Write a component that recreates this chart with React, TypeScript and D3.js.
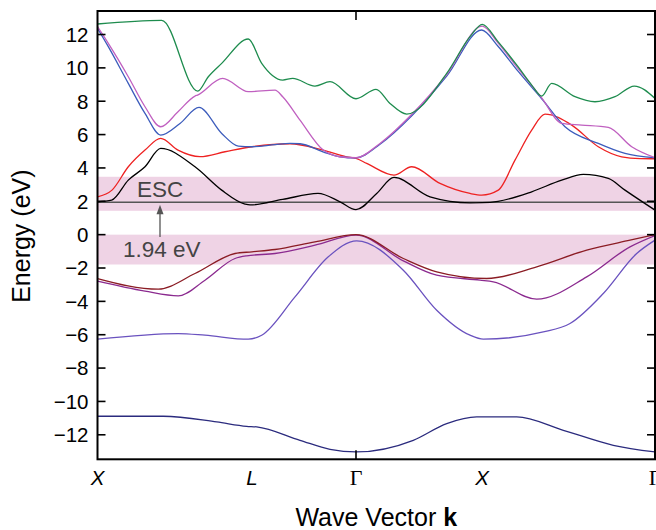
import React from "react";
import * as d3 from "d3";

// k positions of high-symmetry points (path length units)
const symPoints = [
  { k: 0, label: "X", italic: true },
  { k: 1.545, label: "L", italic: true },
  { k: 2.585, label: "Γ", italic: false },
  { k: 3.845, label: "X", italic: true },
  { k: 5.575, label: "Γ", italic: false },
];
const yTicks = [-12, -10, -8, -6, -4, -2, 0, 2, 4, 6, 8, 10, 12];

type P = [number, number];

const band0: P[] = [
  [0, -10.89], [0.658, -10.89], [1.192, -11.23], [1.492, -11.49], [1.592, -11.53],
  [2.025, -12.33], [2.325, -12.87], [2.585, -13.03], [3.158, -12.33], [3.492, -11.33],
  [3.792, -10.93], [4.192, -10.93], [4.658, -11.73], [5.158, -12.63], [5.575, -13.03],
];
const band1: P[] = [
  [0, -6.27], [0.808, -5.93], [1.075, -6.03], [1.508, -6.27], [1.642, -6.03],
  [1.975, -3.73], [2.308, -1.33], [2.592, -0.37], [3.058, -2.13], [3.392, -4.53],
  [3.725, -6.03], [3.858, -6.27], [4.458, -5.83], [4.725, -5.33], [5.058, -3.53],
  [5.392, -1.13], [5.575, -0.33],
];
const band2: P[] = [
  [0, -2.79], [0.475, -3.39], [0.808, -3.67], [1.075, -2.73], [1.375, -1.43],
  [1.492, -1.27], [1.775, -1.13], [2.175, -0.63], [2.585, -0.03], [3.058, -1.57],
  [3.392, -2.43], [3.825, -2.73], [3.958, -2.83], [4.392, -3.87], [4.892, -2.53],
  [5.325, -0.73], [5.575, -0.05],
];
const band3: P[] = [
  [0, -2.63], [0.608, -3.27], [0.975, -2.33], [1.375, -1.13], [1.545, -1.03],
  [1.775, -0.89], [2.175, -0.43], [2.585, 0], [3.058, -1.43], [3.392, -2.23],
  [3.892, -2.63], [4.392, -1.93], [4.892, -0.93], [5.325, -0.33], [5.575, 0],
];
const band4: P[] = [
  [0, 1.97], [0.142, 2.07], [0.308, 3.27], [0.475, 4.07], [0.632, 5.17],
  [0.975, 4.07], [1.242, 2.67], [1.475, 1.83], [1.525, 1.78], [1.852, 2.11],
  [2.205, 2.47], [2.425, 1.97], [2.585, 1.5], [2.792, 2.47], [2.965, 3.43],
  [3.325, 2.27], [3.725, 1.91], [3.845, 1.92], [4.005, 2.0], [4.342, 2.57],
  [4.642, 3.27], [4.858, 3.61], [5.108, 3.37], [5.275, 2.67], [5.575, 1.47],
];
const band5: P[] = [
  [0, 2.27], [0.145, 2.67], [0.308, 4.07], [0.475, 5.07], [0.632, 5.77],
  [0.805, 5.07], [1.025, 4.68], [1.275, 4.97], [1.545, 5.27], [1.925, 5.45],
  [2.255, 5.07], [2.49, 4.67], [2.585, 4.57], [2.692, 4.27], [2.965, 3.57],
  [3.142, 4.07], [3.425, 3.07], [3.725, 2.47], [3.842, 2.37], [4.008, 2.67],
  [4.175, 4.47], [4.342, 6.27], [4.475, 7.23], [4.742, 6.57], [5.008, 5.27],
  [5.242, 4.67], [5.425, 4.56], [5.575, 4.55],
];
const band6: P[] = [
  [0, 12.37], [0.108, 11.27], [0.308, 9.07], [0.475, 7.27], [0.632, 5.97],
  [0.825, 6.67], [1.015, 7.63], [1.242, 6.07], [1.408, 5.31], [1.545, 5.27],
  [1.775, 5.4], [1.925, 5.47], [2.025, 5.45], [2.255, 4.97], [2.425, 4.67],
  [2.585, 4.6], [2.825, 5.42], [3.155, 7.2], [3.492, 9.5], [3.842, 12.27],
  [4.005, 11.3], [4.205, 9.8], [4.442, 8.15], [4.675, 6.47], [5.008, 5.47],
  [5.275, 4.87], [5.575, 4.61],
];
const band7: P[] = [
  [0, 12.47], [0.108, 11.47], [0.308, 9.47], [0.475, 7.67], [0.632, 6.47],
  [0.805, 7.37], [0.975, 8.31], [1.0, 8.37], [1.252, 9.37], [1.508, 8.57],
  [1.775, 8.67], [1.852, 8.27], [2.025, 6.87], [2.258, 5.07], [2.425, 4.67],
  [2.585, 4.61], [2.825, 5.47], [3.155, 7.29], [3.492, 9.6], [3.848, 12.5],
  [4.005, 11.5], [4.205, 9.97], [4.442, 8.2], [4.642, 6.67], [4.842, 6.57],
  [5.108, 6.43], [5.342, 5.27], [5.575, 4.61],
];
const band8: P[] = [
  [0, 12.63], [0.642, 12.85], [1.002, 8.61], [1.108, 9.47], [1.242, 10.27],
  [1.508, 11.73], [1.642, 10.27], [1.852, 9.27], [1.952, 9.37], [2.175, 8.91],
  [2.325, 9.17], [2.585, 8.15], [2.785, 8.71], [2.925, 7.87], [3.092, 7.23],
  [3.492, 9.67], [3.725, 11.87], [3.848, 12.61], [4.005, 11.57], [4.205, 10.07],
  [4.342, 8.97], [4.442, 8.31], [4.542, 9.07], [4.775, 8.27], [4.975, 7.97],
  [5.175, 8.27], [5.368, 8.91], [5.575, 8.17],
];

const bands = [band0, band1, band2, band3, band4, band5, band6, band7, band8];
const bandColors = [
  "#2b2b7e", "#6a52bf", "#8b2a8f", "#8b1c24", "#000000",
  "#ee2222", "#3c5cbc", "#c060c0", "#1e8c4e",
];

const shadeBands: [number, number][] = [[1.43, 3.47], [-1.79, 0]];
const escEnergy = 1.94;

export default function App() {
  const W = 656, H = 530;
  const left = 97.5, right = 655, top = 11, bottom = 459.3;
  const x = d3.scaleLinear().domain([0, 5.575]).range([left, right]);
  const y = d3.scaleLinear().domain([-13.47, 13.41]).range([bottom, top]);
  const line = d3.line<P>().x(d => x(d[0])).y(d => y(d[1])).curve(d3.curveMonotoneX);
  const font = "'Liberation Sans', Arial, Helvetica, sans-serif";
  const gammaK = symPoints[2].k;
  const arrowX = 160;

  return (
    <svg width={W} height={H} style={{ position: "absolute", left: 0, top: 0, background: "#fff" }}>
      <defs>
        <clipPath id="plotclip">
          <rect x={left} y={top} width={right - left} height={bottom - top} />
        </clipPath>
      </defs>
      <g clipPath="url(#plotclip)">
        {shadeBands.map((b, i) => (
          <rect key={i} x={left} width={right - left} y={y(b[1])} height={y(b[0]) - y(b[1])} fill="#efd3e5" />
        ))}
        <line x1={left} x2={right} y1={y(escEnergy)} y2={y(escEnergy)} stroke="#555" strokeWidth={1.6} />
        {bands.map((b, i) => (
          <path key={i} d={line(b) || ""} fill="none" stroke={bandColors[i]} strokeWidth={1.3} />
        ))}
      </g>
      {/* annotation */}
      <text x={137} y={197.3} fontFamily={font} fontSize={22.5} fill="#444">ESC</text>
      <line x1={arrowX} x2={arrowX} y1={237} y2={y(escEnergy) + 10} stroke="#555" strokeWidth={1.3} />
      <path d={`M${arrowX},${y(escEnergy) + 2.5} L${arrowX - 3.5},${y(escEnergy) + 12} L${arrowX + 3.5},${y(escEnergy) + 12} Z`} fill="#555" />
      <text x={123} y={257.3} fontFamily={font} fontSize={22.5} fill="#444">1.94 eV</text>

      {/* frame */}
      <rect x={left} y={top} width={right - left} height={bottom - top} fill="none" stroke="#000" strokeWidth={2} />
      {yTicks.map(t => (
        <g key={t}>
          <line x1={left} x2={left + 8} y1={y(t)} y2={y(t)} stroke="#000" strokeWidth={1.6} />
          <line x1={right - 8} x2={right} y1={y(t)} y2={y(t)} stroke="#000" strokeWidth={1.6} />
          <text x={left - 9} y={y(t)} dy="0.36em" textAnchor="end" fontFamily={font} fontSize={20.5} fill="#000">
            {t < 0 ? `\u2212${Math.abs(t)}` : `${t}`}
          </text>
        </g>
      ))}
      <line x1={x(gammaK)} x2={x(gammaK)} y1={top} y2={top + 9} stroke="#000" strokeWidth={1.6} />
      <line x1={x(gammaK)} x2={x(gammaK)} y1={bottom} y2={bottom - 9} stroke="#000" strokeWidth={1.6} />
      {symPoints.map((s, i) => (
        <text key={i} x={x(s.k)} y={485} textAnchor="middle"
          fontFamily={s.italic ? font : "'Liberation Serif', 'DejaVu Serif', serif"}
          fontStyle={s.italic ? "italic" : "normal"} fontSize={s.italic ? 20.5 : 22} fill="#000">
          {s.label}
        </text>
      ))}
      <text x={(left + right) / 2} y={526} textAnchor="middle" fontFamily={font} fontSize={25} fill="#000">
        Wave Vector <tspan fontWeight="bold">k</tspan>
      </text>
      <text transform={`translate(30,${(top + bottom) / 2 + 1}) rotate(-90)`} textAnchor="middle" fontFamily={font} fontSize={25} fill="#000">
        Energy (eV)
      </text>
    </svg>
  );
}
